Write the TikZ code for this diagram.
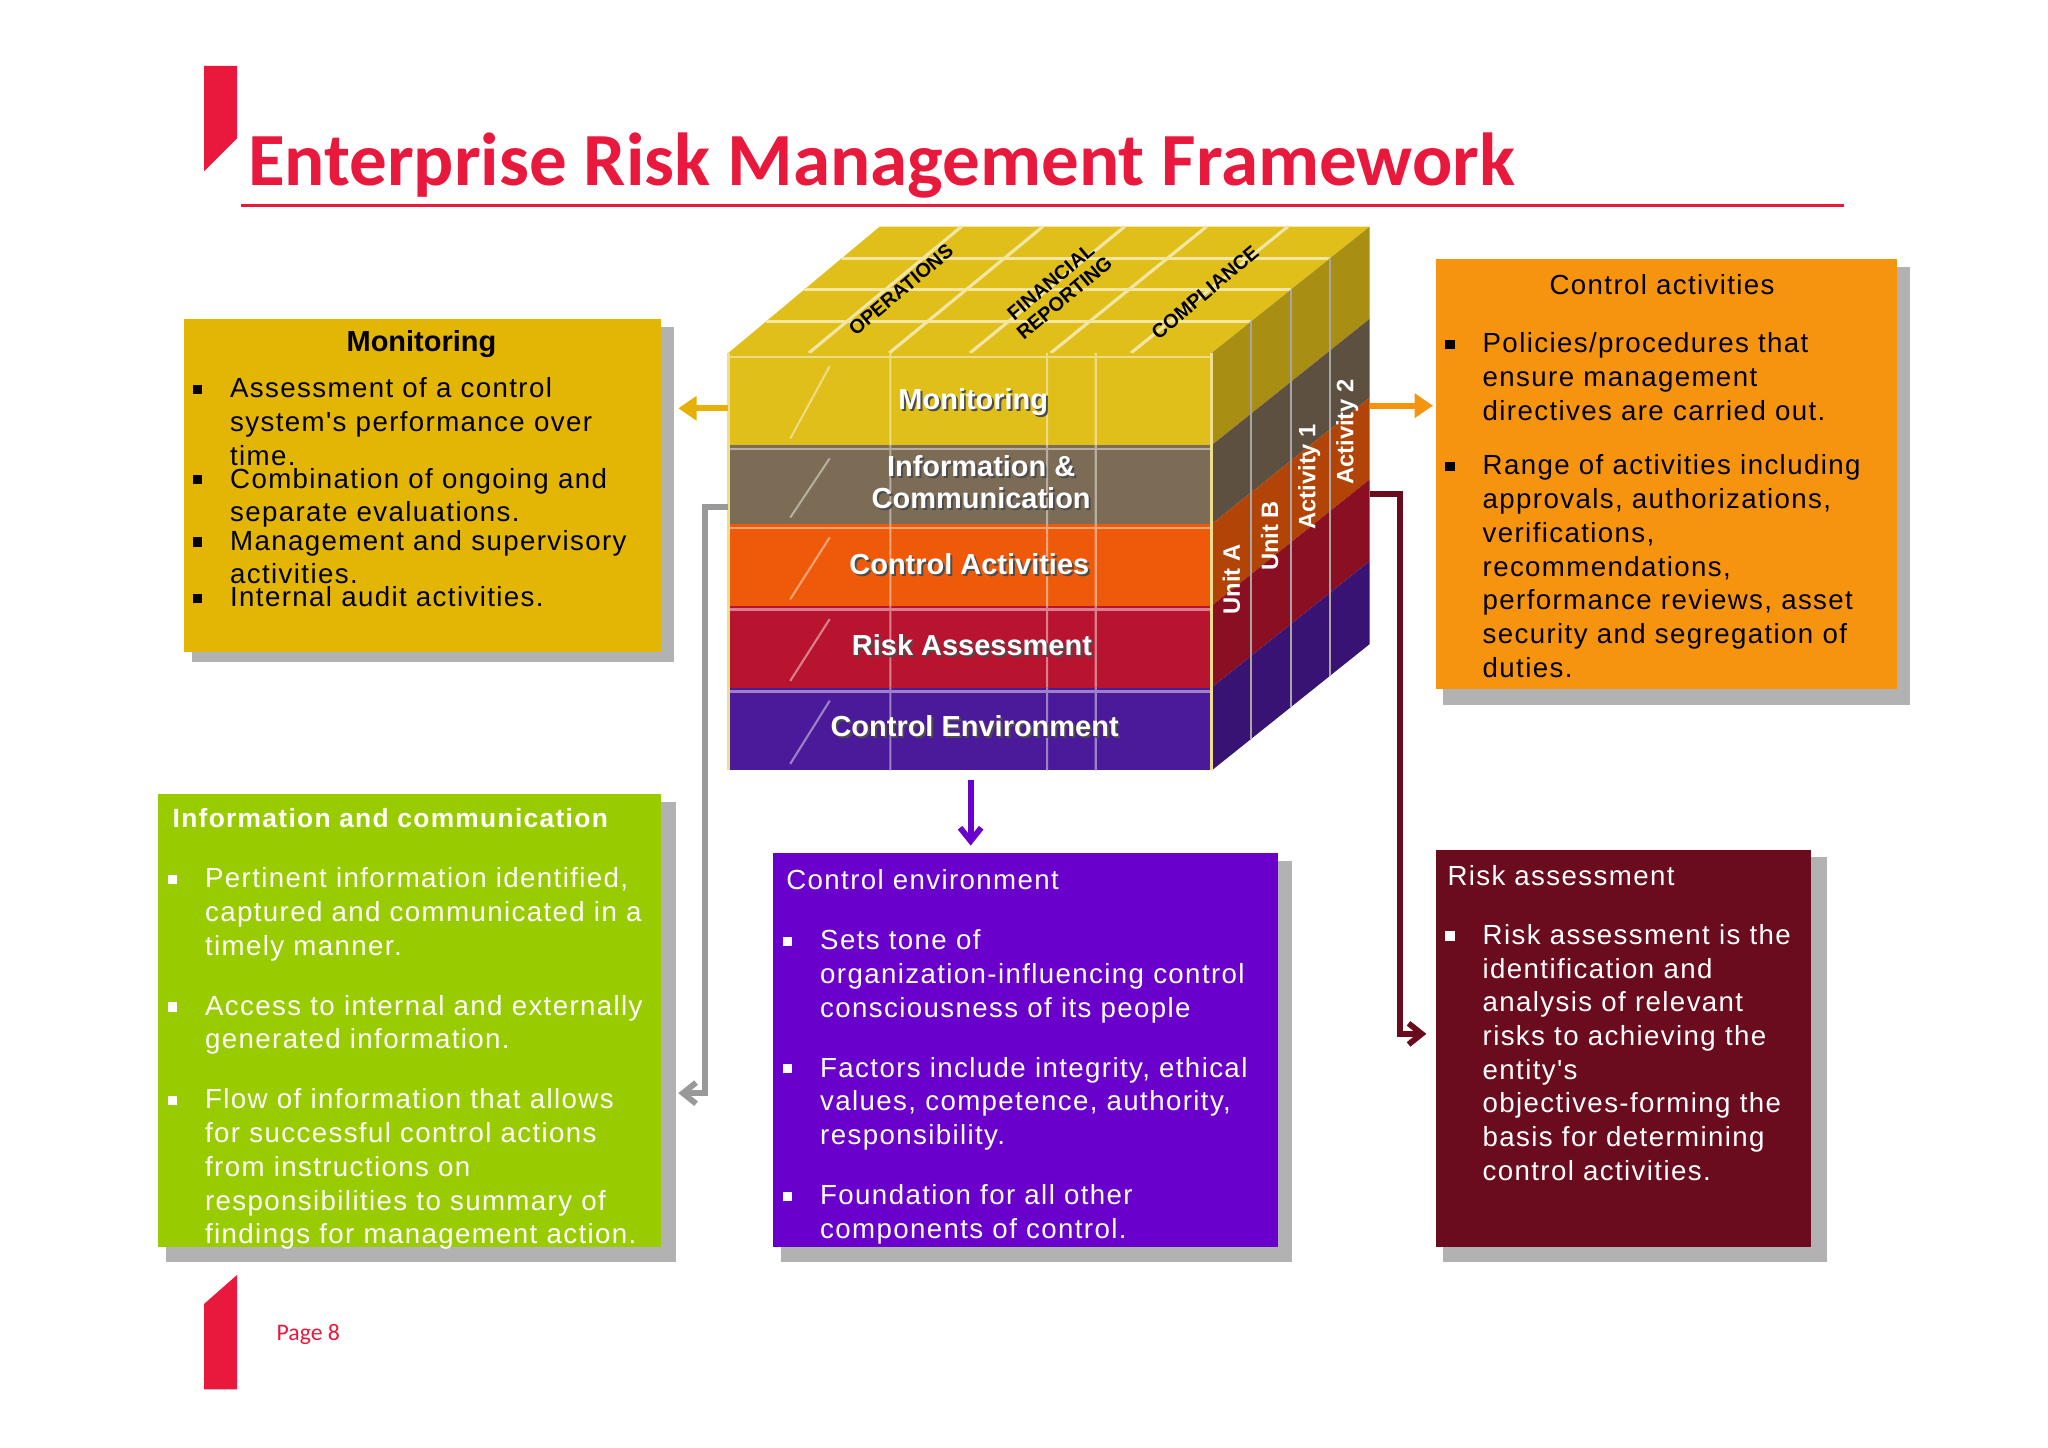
\documentclass[tikz,border=0pt]{standalone}
\usepackage{fontspec}
\setmainfont{Liberation Sans}
\newfontfamily\titlefont{Carlito}
\newfontfamily\bodyfont[LetterSpace=5]{Liberation Sans}
\usetikzlibrary{arrows.meta,calc}
\definecolor{erRed}{HTML}{E8193C}
\definecolor{monY}{HTML}{E3B505}
\definecolor{caO}{HTML}{F7940F}
\definecolor{icG}{HTML}{99CC00}
\definecolor{cePur}{HTML}{6A00CC}
\definecolor{raRed}{HTML}{6B0B1E}
\definecolor{lyY}{HTML}{E0BF1A}
\definecolor{lyG}{HTML}{7C6B55}
\definecolor{lyO}{HTML}{EE5A0A}
\definecolor{lyR}{HTML}{B8142F}
\definecolor{lyP}{HTML}{4A1A9A}
\newcommand\bitem[1]{\par\noindent\makebox[1.35em][l]{\raisebox{0.25ex}{\rule{3.5pt}{3.5pt}}}\parbox[t]{\dimexpr\linewidth-1.35em}{\raggedright\hyphenpenalty=10000 #1}\par}
\tikzset{
 shadowbox/.style={fill=gray!60},
 bodytext/.style={anchor=north west,align=left,font=\bodyfont\fontsize{10.5}{12.8}\selectfont,inner sep=0pt},
 cubelabel/.style={text=white,font=\bfseries\fontsize{11}{12}\selectfont,align=center},
 toplabel/.style={font=\bfseries\fontsize{7.5}{8}\selectfont,align=center,rotate=40},
 sidelabel/.style={text=white,font=\bfseries\fontsize{9}{10}\selectfont,rotate=90},
 conn/.style={line width=2.2pt},
}
\begin{document}
\begin{tikzpicture}[x=0.5pt,y=-0.5pt]
\useasboundingbox[fill=white] (0,0) rectangle (1555,1099);
\fill[erRed] (155,50) -- (180,50) -- (180,105) -- (155,130) -- cycle;
\fill[erRed] (155,990) -- (180,968) -- (180,1055) -- (155,1055) -- cycle;
\node[anchor=south west,text=erRed,font=\titlefont\bfseries\fontsize{28.5}{30}\selectfont,inner sep=0pt] (title) at (188,151) {Enterprise Risk Management Framework};
\draw[erRed,line width=1pt] (183,156) -- (1400,156);
\node[anchor=west,text=erRed,font=\titlefont\fontsize{9}{10}\selectfont] (page) at (203,1013) {Page 8};

% ---- cube ----
\fill[lyY] (553,268) -- (920,268) -- (1040,172) -- (668,172) -- cycle;
\foreach \t in {0.25,0.5,0.75}{
  \draw[white!60!lyY,line width=1.2pt] ($(553,268)!\t!(668,172)$) -- ($(920,268)!\t!(1040,172)$);}
\foreach \t in {0.1667,0.333,0.5,0.667,0.833}{
  \draw[white!60!lyY,line width=1.2pt] ($(553,268)!\t!(920,268)$) -- ($(668,172)!\t!(1040,172)$);}
\foreach \yt/\yb/\c in {268/338/lyY,338/398/lyG,398/460/lyO,460/522/lyR,522/585/lyP}{
  \fill[\c] (553,\yt) rectangle (920,\yb);
  \fill[\c!75!black] (920,\yt) -- (1040,\yt-96) -- (1040,\yb-96) -- (920,\yb) -- cycle;
  \draw[white!45!\c,line width=1pt] (553,\yt+3) -- (920,\yt+3);
  \draw[white!45!\c,line width=0.8pt] (600,\yb-5) -- (630,\yt+10) (676,\yt) -- (676,\yb) (795,\yt) -- (795,\yb) (832,\yt) -- (832,\yb);
}
\foreach \k in {1,2,3}{
  \draw[white!30!gray,line width=0.8pt] (920+30*\k,268-24*\k) -- (920+30*\k,585-24*\k);}
\draw[white!50!lyY,line width=1pt] (553,268) -- (553,585) (920,268)--(920,585);
\node[toplabel] (ops) at (684,220) {OPERATIONS};
\node[toplabel] (fin) at (803,220) {FINANCIAL\\REPORTING};
\node[toplabel] (comp) at (915,222) {COMPLIANCE};
\foreach \x/\y/\t in {739/305/Monitoring,745/366/{Information \&\\Communication},736/428/Control Activities,738/490/Risk Assessment,740/551/Control Environment}{
  \node[cubelabel,text=black!70] at (\x+1.5,\y+1.5) {\t};
  \node[cubelabel] at (\x,\y) {\t};}
\node[sidelabel] (ua) at (935,440) {Unit A};
\node[sidelabel] (ub) at (964,407) {Unit B};
\node[sidelabel] (a1) at (994,362) {Activity 1};
\node[sidelabel] (a2) at (1023,328) {Activity 2};
\coordinate (cubeL) at (553,310);
\coordinate (cubeR) at (1040,308);
\coordinate (cubeI) at (553,385);
\coordinate (cubeB) at (737,592);
\coordinate (cubeS) at (1040,375);

% ---- boxes ----
\fill[shadowbox] (146,248) rectangle (512,503);
\fill[monY] (140,242) rectangle (502,495);
\node (monT) at (320,261) {\bfseries\fontsize{11}{12}\selectfont Monitoring};
\node[bodytext,text width=170pt] (monB) at (146,276) {\bitem{Assessment of a control system's performance over time.}\bitem{Combination of ongoing and separate evaluations.}\bitem{Management and supervisory activities.}\bitem{Internal audit activities.}};
\coordinate (monE) at (515,310);
\fill[shadowbox] (1096,203) rectangle (1450,535);
\fill[caO] (1090,197) rectangle (1440,523);
\node[font=\bodyfont\fontsize{10.5}{12}\selectfont] (caT) at (1262,216) {Control activities};
\node[bodytext,text width=158pt] (caB) at (1097,242) {\bitem{Policies/procedures that ensure management directives are carried out.}\par\vspace{12pt}\bitem{Range of activities including approvals, authorizations, verifications, recommendations, performance reviews, asset security and segregation of duties.}};
\coordinate (caE) at (1088,308);
\fill[shadowbox] (126,609) rectangle (513,958);
\fill[icG] (120,603) rectangle (502,947);
\node[anchor=west,text=white,font=\bodyfont\bfseries\fontsize{10}{12}\selectfont] (icT) at (124,621) {Information and communication};
\node[bodytext,text=white,text width=185pt] (icB) at (127,648) {\bitem{Pertinent information identified, captured and communicated in a timely manner.}\par\vspace{12pt}\bitem{Access to internal and externally generated information.}\par\vspace{12pt}\bitem{Flow of information that allows for successful control actions from instructions on responsibilities to summary of findings for management action.}};
\coordinate (icE) at (515,830);
\fill[shadowbox] (593,654) rectangle (981,958);
\fill[cePur] (587,648) rectangle (970,947);
\node[anchor=west,text=white,font=\bodyfont\fontsize{10.5}{12}\selectfont] (ceT) at (590,668) {Control environment};
\node[bodytext,text=white,text width=185pt] (ceB) at (594,695) {\bitem{Sets tone of organization-influencing control consciousness of its people}\par\vspace{12pt}\bitem{Factors include integrity, ethical values, competence, authority, responsibility.}\par\vspace{12pt}\bitem{Foundation for all other components of control.}};
\coordinate (ceE) at (737,642);
\fill[shadowbox] (1096,651) rectangle (1387,958);
\fill[raRed] (1090,645) rectangle (1375,947);
\node[anchor=west,text=white,font=\bodyfont\fontsize{10.5}{12}\selectfont] (raT) at (1092,665) {Risk assessment};
\node[bodytext,text=white,text width=135pt] (raB) at (1097,691) {\bitem{Risk assessment is the identification and analysis of relevant risks to achieving the entity's objectives-forming the basis for determining control activities.}};
\coordinate (raE) at (1083,785);

% ---- connectors ----
\draw[conn,monY!90!orange,-{Triangle[length=7pt,width=9pt]}] (cubeL) -- (monE);
\draw[conn,caO,-{Triangle[length=7pt,width=9pt]}] (cubeR) -- (caE);
\draw[conn,gray!80,-{Straight Barb[length=5pt,width=8pt]}] (cubeI) -- (535,385) -- (535,830) -- (icE);
\draw[conn,cePur,-{Straight Barb[length=5pt,width=8pt]}] (cubeB) -- (ceE);
\draw[conn,raRed,-{Straight Barb[length=5pt,width=8pt]}] (cubeS) -- (1063,375) -- (1063,785) -- (raE);
\end{tikzpicture}
\end{document}
